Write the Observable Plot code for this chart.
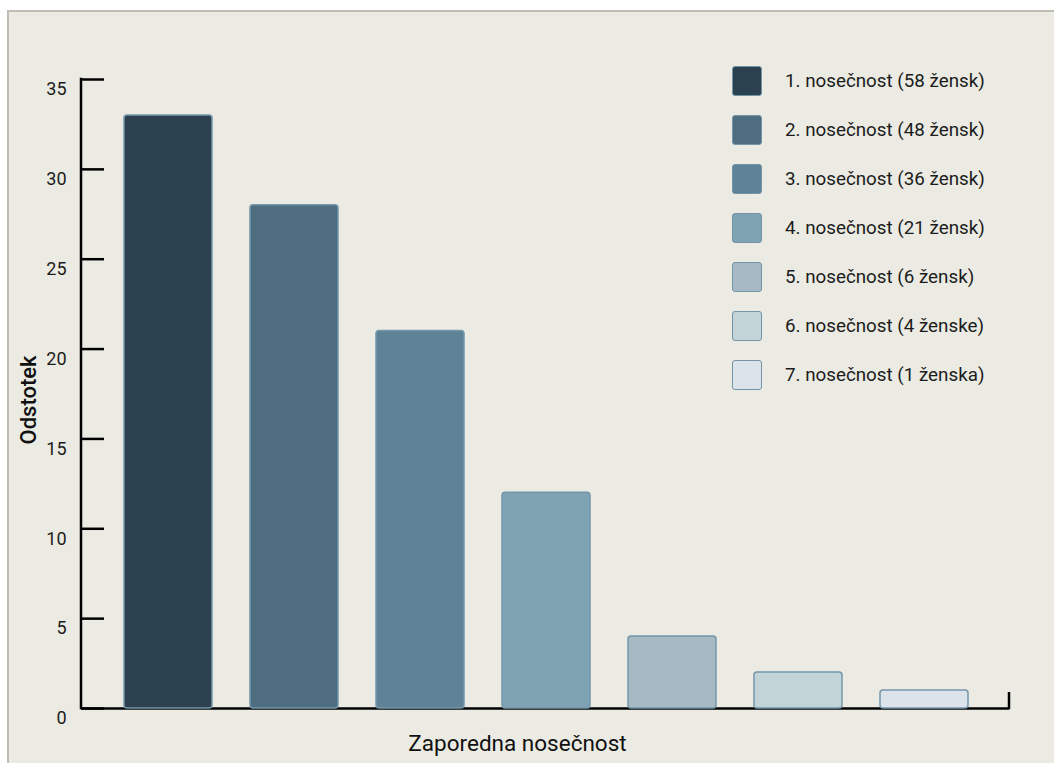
<!DOCTYPE html>
<html>
<head>
<meta charset="utf-8">
<script src="https://cdn.jsdelivr.net/npm/d3@7"></script>
<script src="https://cdn.jsdelivr.net/npm/@observablehq/plot@0.6"></script>
<style>
  html, body { margin: 0; padding: 0; background: #ffffff; }
  #chart { position: relative; width: 1054px; height: 763px; overflow: hidden; font-family: Roboto, sans-serif; }
  #panel { position: absolute; left: 7px; top: 10px; right: -10px; bottom: -10px;
           background: #EBEBE3; border-left: 2px solid #BDBDB1; border-top: 2px solid #BDBDB1; }
  #plot { position: absolute; left: 0; top: 0; }
  #legend { position: absolute; left: 732px; top: 65px; }
  .item { display: flex; align-items: center; height: 31px; margin-bottom: 18px; }
  .swatch { width: 28px; height: 28px; border: 1.5px solid #7393A6; border-radius: 3px; flex: none; }
  .item span { margin-left: 23px; font-size: 18.8px; color: #1c1c1c; white-space: nowrap; }
</style>
</head>
<body>
<div id="chart">
  <div id="panel"></div>
  <div id="plot"></div>
  <div id="legend"></div>
</div>
<script>
// Pregnancy order, share of women (%) and legend labels with counts
const categories = ["1", "2", "3", "4", "5", "6", "7"];
const percent = [33, 28, 21, 12, 4, 2, 1];
const legendLabels = [
  "1. nosečnost (58 žensk)",
  "2. nosečnost (48 žensk)",
  "3. nosečnost (36 žensk)",
  "4. nosečnost (21 žensk)",
  "5. nosečnost (6 žensk)",
  "6. nosečnost (4 ženske)",
  "7. nosečnost (1 ženska)"
];
const colors = ["#2C4150", "#4F6D80", "#5F8396", "#7FA3B2", "#A6B9C4", "#C3D4D8", "#DCE3EA"];
const yTicks = [0, 5, 10, 15, 20, 25, 30, 35];
const yTitle = "Odstotek";
const xTitle = "Zaporedna nosečnost";

const rows = categories.map((c, i) => ({cat: c, pct: percent[i]}));

const plot = Plot.plot({
  width: 1054,
  height: 763,
  marginLeft: 81,
  marginRight: 45,
  marginTop: 79,
  marginBottom: 55,
  style: {background: "transparent", fontFamily: "Roboto, sans-serif", fontSize: "18px", color: "#1c1c1c"},
  x: {domain: categories, range: [86, 1006], padding: 0.3, axis: null},
  y: {domain: [0, 35]},
  color: {domain: categories, range: colors},
  marks: [
    Plot.ruleY([0], {stroke: "#000", strokeWidth: 2.5}),
    Plot.barY(rows, {x: "cat", y: "pct", fill: "cat", stroke: "#7596AA", strokeWidth: 1.5, rx: 3}),
    Plot.axisY(yTicks, {tickSize: -23, strokeWidth: 2.5, stroke: "#000", tickFormat: () => "", label: null}),
    Plot.axisY(yTicks, {tickSize: 0, tickPadding: 15, dy: 10, label: null, fontSize: 18}),
    Plot.text([yTitle], {text: d => d, frameAnchor: "left", textAnchor: "middle", lineAnchor: "middle",
      rotate: -90, dx: -53, dy: 6, fontSize: 22, fontWeight: 500, fill: "#111"}),
    Plot.text([xTitle], {text: d => d, frameAnchor: "bottom", textAnchor: "middle", lineAnchor: "middle",
      dx: -28, dy: 35, fontSize: 22.5, fill: "#111"})
  ]
});

// Axis lines: vertical y-axis line and the end tick of the x axis
const y = plot.scale("y");
const svg = d3.select(plot);
const left = 81, right = 1054 - 45;
svg.append("line")
  .attr("x1", left).attr("x2", left)
  .attr("y1", y.apply(0) + 1.25).attr("y2", y.apply(35) - 1.25)
  .attr("stroke", "#000").attr("stroke-width", 2.5);
svg.append("line")
  .attr("x1", right).attr("x2", right)
  .attr("y1", y.apply(0) + 1.25).attr("y2", y.apply(0) - 16)
  .attr("stroke", "#000").attr("stroke-width", 2.5);

document.getElementById("plot").appendChild(plot);

// Legend
const legend = d3.select("#legend");
legendLabels.forEach((label, i) => {
  const item = legend.append("div").attr("class", "item");
  item.append("div").attr("class", "swatch").style("background", colors[i]);
  item.append("span").text(label);
});
</script>
</body>
</html>
